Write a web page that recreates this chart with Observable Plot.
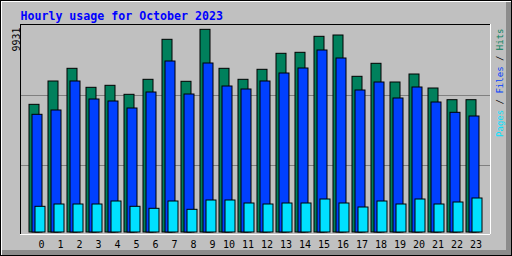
<!DOCTYPE html>
<html><head><meta charset="utf-8">
<script src="https://cdn.jsdelivr.net/npm/d3@7"></script>
<script src="https://cdn.jsdelivr.net/npm/@observablehq/plot@0.6"></script>
<style>
html,body{margin:0;padding:0;background:#fff;}
#chart{position:relative;width:512px;height:256px;background:#C0C0C0;
  box-shadow: inset 0 0 0 1px #000, inset 2px 2px 0 0 #fff, inset -6px -6px 0 0 #8c8c8c; overflow:hidden;}
#chart svg{position:absolute;left:0;top:0;}
</style></head><body><div id="chart"></div>
<script>
const title = "Hourly usage for October 2023";
const hours = [0,1,2,3,4,5,6,7,8,9,10,11,12,13,14,15,16,17,18,19,20,21,22,23];
const hits  = [6256,7399,8021,7090,7188,6747,7482,9442,7384,9931,8021,7482,7972,8756,8805,9589,9653,7629,8266,7350,7742,7056,6483,6483];
const files = [5767,5978,7399,6517,6419,6076,6860,8379,6762,8281,7154,7007,7399,7791,8036,8918,8526,6958,7350,6566,7105,6370,5865,5684];
const pages = [1259,1372,1372,1372,1519,1259,1161,1519,1112,1568,1568,1421,1372,1421,1421,1617,1421,1225,1519,1372,1617,1372,1470,1666];
const gridValues = [3283, 6713];
const legendParts = [["Pages","#00E0FF"],[" / ","#000000"],["Files","#0040FF"],[" / ","#000000"],["Hits","#00805C"]];
const colors = {hits:"#00805C", files:"#0040FF", pages:"#00E0FF"};

const data = hours.map((h,i)=>({hour:h, hits:hits[i], files:files[i], pages:pages[i]}));
const xDomain = [-9/19, 461/19];
const yDomain = [-98, 10192];
const legendText = legendParts.map(d=>d[0]).join("");

const chart = Plot.plot({
  width:512, height:256,
  marginLeft:20, marginRight:22, marginTop:24, marginBottom:22,
  x:{type:"linear", domain:xDomain, axis:null},
  y:{type:"linear", domain:yDomain, axis:null},
  style:{background:"transparent", fontFamily:"DejaVu Sans Mono", overflow:"visible"},
  marks:[
    Plot.ruleY(gridValues, {stroke:"#808080"}),
    Plot.rect(data, {x1:"hour", x2:d=>d.hour+10/19, y1:0, y2:"hits", fill:colors.hits, stroke:"#000"}),
    Plot.rect(data, {x1:d=>d.hour+3/19, x2:d=>d.hour+13/19, y1:0, y2:"files", fill:colors.files, stroke:"#000"}),
    Plot.rect(data, {x1:d=>d.hour+6/19, x2:d=>d.hour+16/19, y1:0, y2:"pages", fill:colors.pages, stroke:"#000"}),
    Plot.ruleX([xDomain[0]], {stroke:"#000"}),
    Plot.ruleY([yDomain[1]], {stroke:"#000"}),
    Plot.ruleX([xDomain[1]], {stroke:"#fff"}),
    Plot.ruleY([yDomain[0]], {stroke:"#fff"}),
    Plot.text(data, {x:d=>d.hour+(d.hour<10?12:9.5)/19, frameAnchor:"bottom", text:d=>String(d.hour), dy:10.5, lineAnchor:"middle", fontSize:10, fill:"#000"}),
    Plot.text([title], {frameAnchor:"top-left", text:d=>d, textAnchor:"start", lineAnchor:"bottom", dy:-5, fontSize:11.6, fontWeight:"bold", fill:"#0000FF"}),
    Plot.text([d3.max(hits)], {frameAnchor:"top-left", text:d=>String(d), rotate:-90, textAnchor:"end", lineAnchor:"bottom", dx:-1, dy:3, fontSize:10, fill:"#000"}),
    Plot.text([legendText], {frameAnchor:"top-right", text:d=>d, rotate:-90, textAnchor:"end", lineAnchor:"bottom", dx:12, dy:4, fontSize:9, fill:"#000"})
  ]
});
chart.querySelectorAll("text").forEach(t=>{
  if (t.textContent === legendText) {
    t.textContent = "";
    t.setAttribute("style","white-space:pre");
    legendParts.forEach(([s,c])=>{
      const ts = document.createElementNS("http://www.w3.org/2000/svg","tspan");
      ts.textContent = s; ts.setAttribute("fill", c);
      t.appendChild(ts);
    });
  }
});
document.getElementById("chart").appendChild(chart);
</script>
</body></html>
